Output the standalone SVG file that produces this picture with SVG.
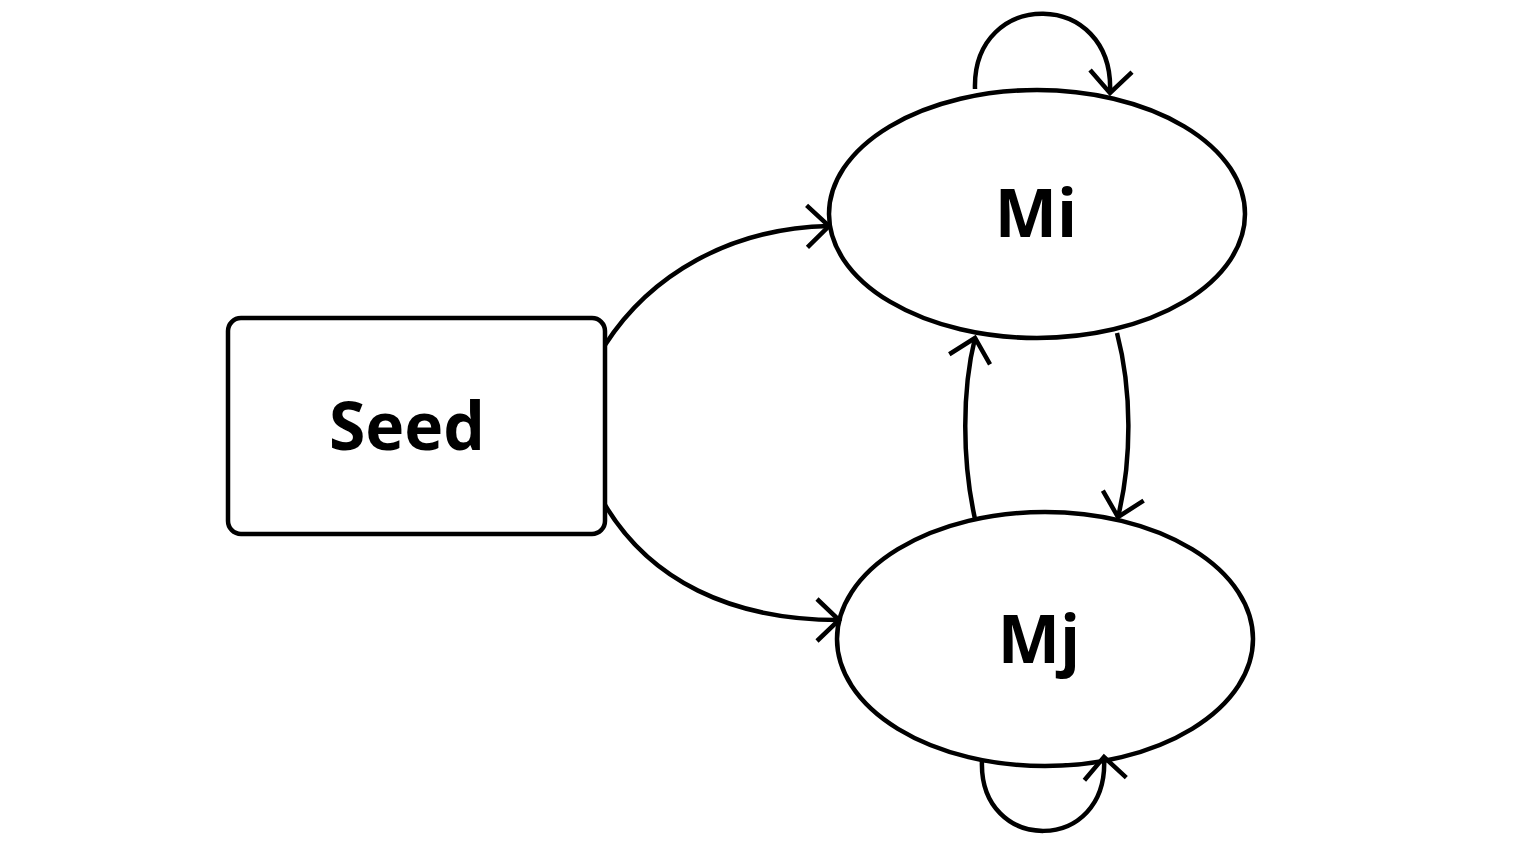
<svg xmlns="http://www.w3.org/2000/svg" width="1536" height="864" viewBox="0 0 1536 864">
<style>
.shape{fill:#fff;stroke:#000;stroke-width:4.5}
.edge{fill:none;stroke:#000;stroke-width:4.5}
.lbl{font-family:"Open Sans","Noto Sans","Liberation Sans",sans-serif;font-weight:bold;font-size:66px;text-anchor:middle;fill:#000}
</style>
<defs>
<marker id="arr" markerUnits="userSpaceOnUse" markerWidth="60" markerHeight="60" viewBox="-30 -30 60 60" refX="0" refY="0" orient="auto" overflow="visible">
<path d="M-22,-21 L0,0 L-22,21" fill="none" stroke="#000" stroke-width="4.5"/>
</marker>
</defs>
<rect width="1536" height="864" fill="#fff"/>
<g id="seed"><rect class="shape" x="228" y="318" width="377" height="216" rx="13"/><text class="lbl" x="407" y="450">Seed</text></g>
<g id="mi"><ellipse class="shape" cx="1037" cy="214" rx="208" ry="124"/><text class="lbl" x="1036" y="237">Mi</text></g>
<g id="mj"><ellipse class="shape" cx="1045" cy="639" rx="208" ry="127"/><text class="lbl" x="1039" y="663">Mj</text></g>
<g id="edges">
<path class="edge" d="M605,345 C650,275 730,228 829,226" marker-end="url(#arr)"/>
<path class="edge" d="M605,505 C650,580 730,620 839,620" marker-end="url(#arr)"/>
<path class="edge" d="M1117,333 C1132,390 1132,460 1118,517" marker-end="url(#arr)"/>
<path class="edge" d="M975,519 C962,460 962,390 975,338" marker-end="url(#arr)"/>
<path class="edge" d="M975,89 C972,-12 1115,-12 1110,93" marker-end="url(#arr)"/>
<path class="edge" d="M982,760 C978,855 1110,855 1104,757" marker-end="url(#arr)"/>
</g>
</svg>
